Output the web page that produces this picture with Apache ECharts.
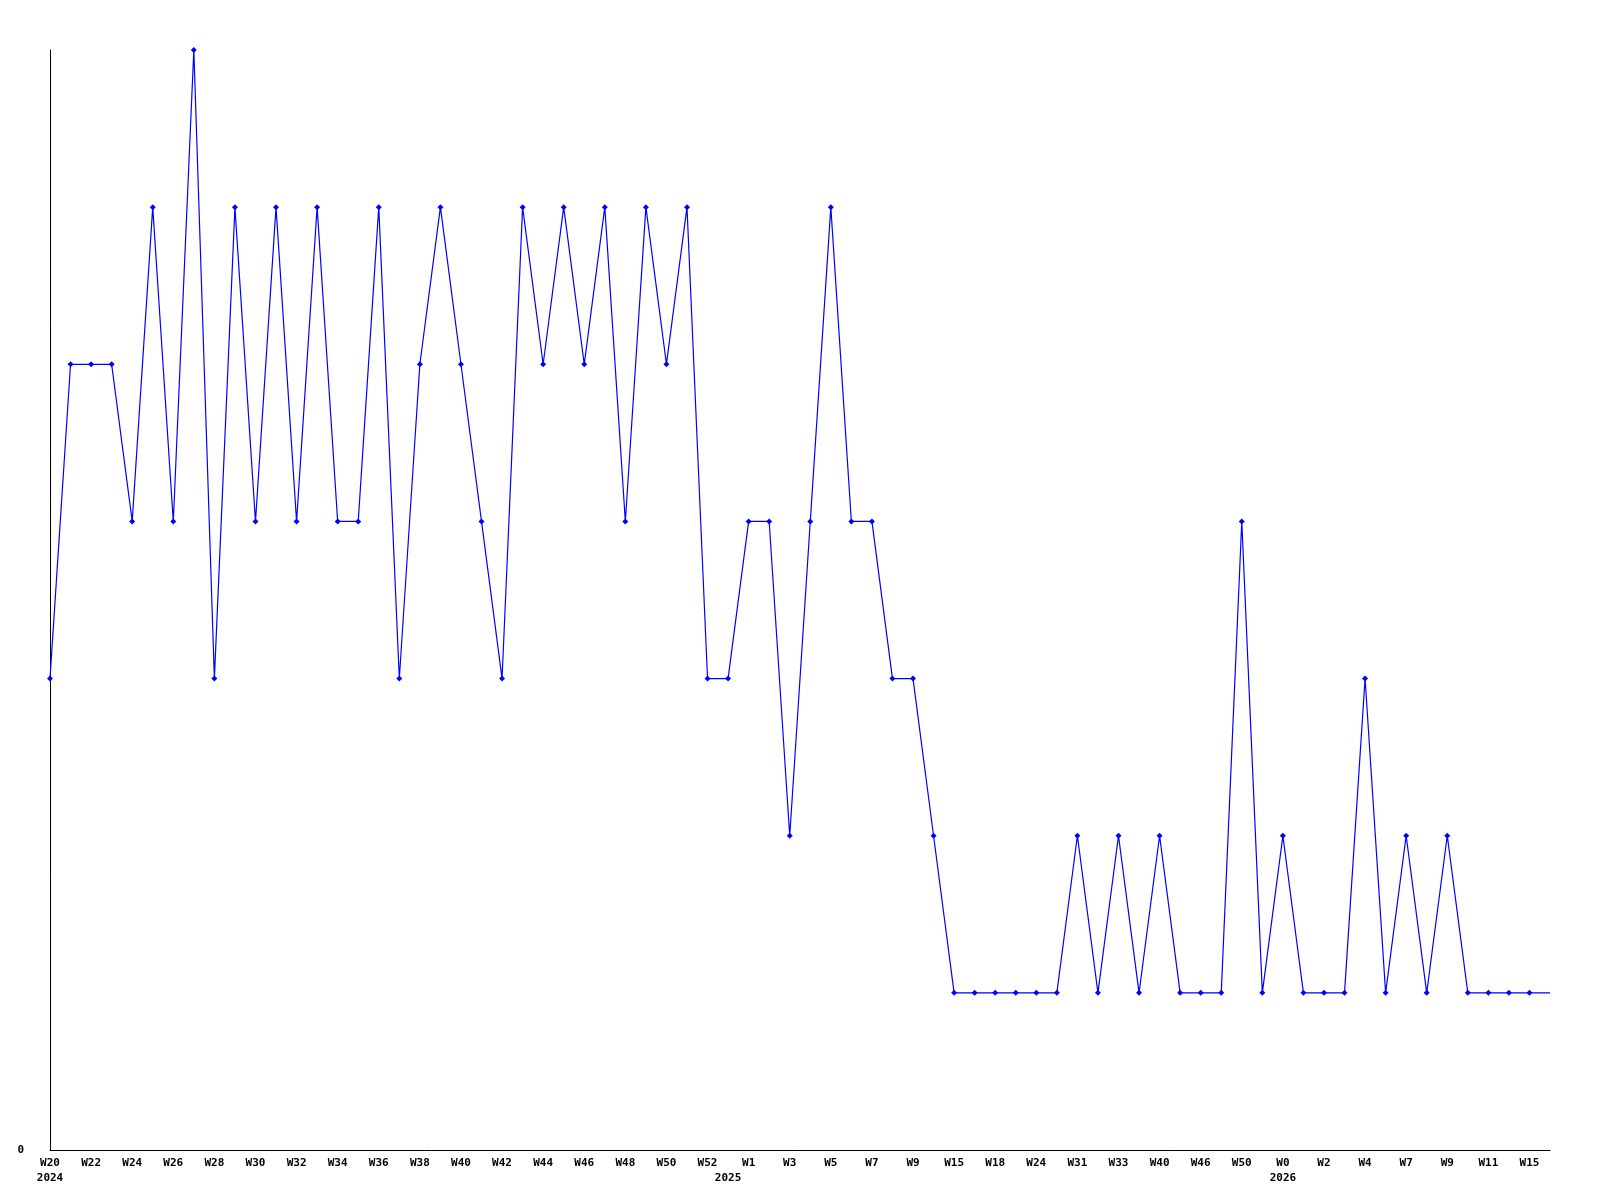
<!DOCTYPE html>
<html>
<head>
<meta charset="utf-8">
<script src="https://cdn.jsdelivr.net/npm/echarts@6/dist/echarts.min.js"></script>
<style>html,body{margin:0;padding:0;background:#fff}#c{width:1600px;height:1200px}</style>
</head>
<body>
<div id="c"></div>
<script>
const categories = ['W20','W21','W22','W23','W24','W25','W26','W27','W28','W29','W30','W31','W32','W33','W34','W35','W36','W37','W38','W39','W40','W41','W42','W43','W44','W45','W46','W47','W48','W49','W50','W51','W52',
  'W0','W1','W2','W3','W4','W5','W6','W7','W8','W9','W12','W15','W16','W18','W21','W24','W27','W31','W32','W33','W37','W40','W43','W46','W48','W50','W51',
  'W0','W1','W2','W3','W4','W5','W7','W8','W9','W10','W11','W13','W15','W16'];
const values = [3,5,5,5,4,6,4,7,3,6,
  4,6,4,6,4,4,6,3,5,6,
  5,4,3,6,5,6,5,6,4,6,
  5,6,3,3,4,4,2,4,6,4,
  4,3,3,2,1,1,1,1,1,1,
  2,1,2,1,2,1,1,1,4,1,
  2,1,1,1,3,1,2,1,2,1,
  1,1,1,1];
const yearStartIndex = [0, 33, 60];
const yearLabels = ['2024', '2025', '2026'];
const yTickLabels = ['0'];

const font = {fontFamily: 'DejaVu Sans Mono', fontWeight: 'bold', fontSize: 11, color: '#000'};
const lastIdx = values.length - 1;
const seriesData = values.map((v, i) => i === lastIdx ? {value: v, symbol: 'none'} : v);

const chart = echarts.init(document.getElementById('c'), null, {renderer: 'canvas'});
chart.setOption({
  animation: false,
  backgroundColor: '#fff',
  grid: {left: 50, right: 50, top: 50, bottom: 50, containLabel: false},
  xAxis: [{
    type: 'category', data: categories, boundaryGap: false, position: 'bottom',
    axisLine: {show: true, lineStyle: {color: '#000', width: 1}},
    axisTick: {show: false},
    splitLine: {show: false},
    axisLabel: Object.assign({interval: 1, margin: 8}, font)
  }, {
    type: 'category', data: categories, boundaryGap: false, position: 'bottom', offset: 15,
    axisLine: {show: false}, axisTick: {show: false}, splitLine: {show: false},
    axisLabel: Object.assign({
      interval: (i) => yearStartIndex.indexOf(i) >= 0,
      formatter: (v, i) => { const k = yearStartIndex.indexOf(i); return k >= 0 ? yearLabels[k] : ''; },
      margin: 8
    }, font)
  }],
  yAxis: {
    type: 'value', min: 0, max: 7, interval: 7,
    axisLine: {show: true, lineStyle: {color: '#000', width: 1}},
    axisTick: {show: false},
    splitLine: {show: false},
    axisLabel: Object.assign({
      margin: 26,
      formatter: (v) => v === 0 ? yTickLabels[0] : ''
    }, font)
  },
  series: [{
    type: 'line', data: seriesData, xAxisIndex: 0,
    symbol: 'diamond', symbolSize: 6, showAllSymbol: true,
    lineStyle: {color: '#0000ff', width: 1.2},
    itemStyle: {color: '#0000ff'}
  }]
});
</script>
</body>
</html>
